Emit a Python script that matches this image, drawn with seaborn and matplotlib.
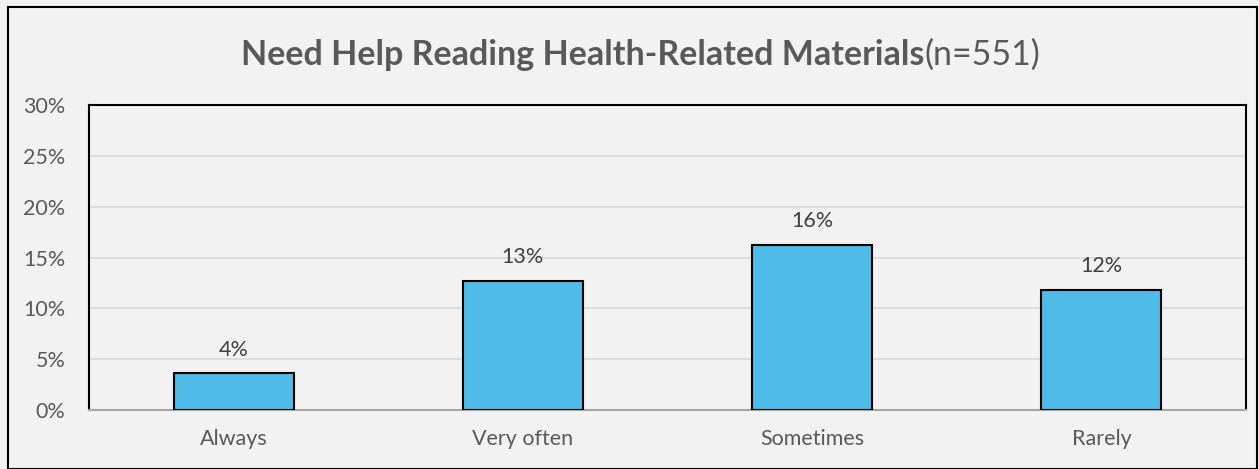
import matplotlib
matplotlib.use("Agg")
import matplotlib.pyplot as plt
import seaborn as sns
import pandas as pd
from matplotlib.patches import Rectangle
from matplotlib.ticker import FuncFormatter, MultipleLocator

categories = ["Always", "Very often", "Sometimes", "Rarely"]
values = [3.6, 12.7, 16.2, 11.8]
labels = ["4%", "13%", "16%", "12%"]
title_bold = "Need Help Reading Health-Related Materials"
title_normal = "(n=551)"

sns.set_theme(style="white")
plt.rcParams['font.family'] = ['Lato', 'DejaVu Sans']

bg = "#F2F2F2"
txt = "#595959"

fig = plt.figure(figsize=(12.59, 4.69), dpi=100, facecolor=bg)
ax = fig.add_axes([89/1259, 1-410/469, 1157/1259, 305/469])
ax.set_facecolor(bg)

df = pd.DataFrame({"cat": categories, "val": values})
sns.barplot(data=df, x="cat", y="val", ax=ax, color="#4FBBE8", saturation=1,
            width=0.415, edgecolor="black", linewidth=1.5, zorder=3)

ax.set_ylim(0, 30)
ax.set_xlim(-0.5, 3.5)
ax.yaxis.set_major_locator(MultipleLocator(5))
ax.yaxis.set_major_formatter(FuncFormatter(lambda v, p: f"{int(v)}%"))
ax.grid(axis="y", color="#D9D9D9", linewidth=1.2, zorder=0)
ax.set_xlabel("")
ax.set_ylabel("")
ax.tick_params(axis="both", length=0, labelsize=15.5, colors=txt)
ax.tick_params(axis="y", pad=17)
ax.tick_params(axis="x", pad=14)
for s in ["left", "top", "right"]:
    ax.spines[s].set_color("black")
    ax.spines[s].set_linewidth(1.5)
ax.spines["bottom"].set_color("#A6A6A6")
ax.spines["bottom"].set_linewidth(1.5)

for i, (v, l) in enumerate(zip(values, labels)):
    ax.annotate(l, (i, v), xytext=(0, 10), textcoords="offset points",
                ha="center", va="bottom", fontsize=15.5, color="#404040")

# title in two parts
fig.canvas.draw()
r = fig.canvas.get_renderer()
t1 = fig.text(0, 1-55/469, title_bold, fontsize=24.5, fontweight="bold", color=txt, va="center", ha="left")
t2 = fig.text(0, 1-55/469, title_normal, fontsize=24.5, color=txt, va="center", ha="left")
w1 = t1.get_window_extent(r).width
w2 = t2.get_window_extent(r).width
cx = 641
x0 = cx - (w1 + w2) / 2
t1.set_x(x0 / 1259)
t2.set_x((x0 + w1) / 1259)

fig.patches.append(Rectangle((8/1259, 0), 1249/1259, 1-7/469, transform=fig.transFigure,
                             fill=False, edgecolor="black", linewidth=1.5))

fig.savefig("out.png", dpi=100, facecolor=bg)
